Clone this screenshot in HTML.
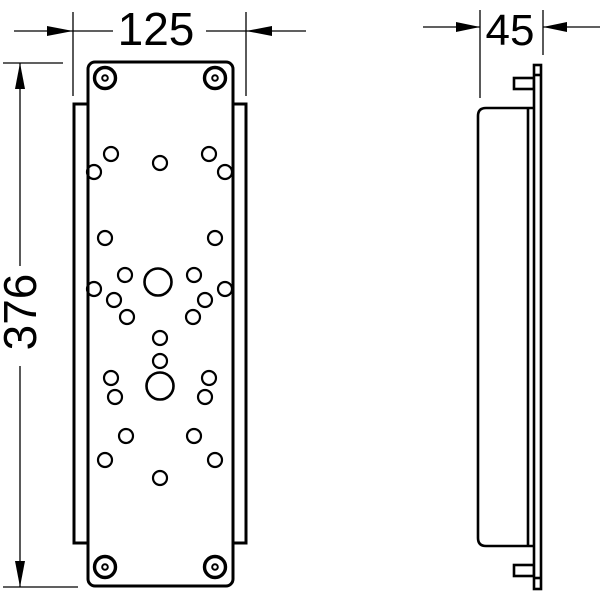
<!DOCTYPE html>
<html><head><style>body{margin:0;background:#fff}svg{display:block}</style></head>
<body>
<svg width="600" height="600" viewBox="0 0 600 600" xmlns="http://www.w3.org/2000/svg">
<g fill="none" stroke="#000" stroke-width="1.3">
<line x1="73" y1="12" x2="73" y2="96"/>
<line x1="246" y1="12" x2="246" y2="96"/>
<line x1="14" y1="31" x2="113" y2="31"/>
<line x1="206" y1="31" x2="306" y2="31"/>
<line x1="3" y1="63" x2="63" y2="63"/>
<line x1="3" y1="587" x2="78" y2="587"/>
<line x1="20" y1="63" x2="20" y2="266"/>
<line x1="20" y1="366" x2="20" y2="587"/>
<line x1="480" y1="10" x2="480" y2="98"/>
<line x1="543" y1="10" x2="543" y2="55"/>
<line x1="423" y1="27" x2="480" y2="27"/>
<line x1="543" y1="27" x2="600" y2="27"/>
</g>
<g fill="#000">
<polygon points="73,31 47,26 47,36"/>
<polygon points="246,31 272,26 272,36"/>
<polygon points="20,63 15,89 25,89"/>
<polygon points="20,587 15,561 25,561"/>
<polygon points="480,27 456,22 456,32"/>
<polygon points="543,27 567,22 567,32"/>
</g>
<g font-family="Liberation Sans, sans-serif" font-size="46" fill="#000">
<text x="156" y="45" text-anchor="middle">125</text>
<text x="510" y="45" text-anchor="middle" font-size="44">45</text>
<text transform="translate(36,312) rotate(-90)" text-anchor="middle">376</text>
</g>
<g fill="#fff" stroke="#000" stroke-width="3">
<rect x="74" y="104" width="172" height="439"/>
<rect x="88" y="62" width="145" height="524" rx="7"/>
</g>
<g fill="none" stroke="#000" stroke-width="3.4">
<circle cx="105" cy="78" r="10.5"/><circle cx="215" cy="78" r="10.5"/>
<circle cx="105" cy="567" r="10.5"/><circle cx="215" cy="567" r="10.5"/>
</g>
<g fill="none" stroke="#000" stroke-width="2.6">
<circle cx="158" cy="282" r="13.5"/><circle cx="160" cy="386" r="13.5"/>
</g>
<g fill="none" stroke="#000" stroke-width="2">
<circle cx="105" cy="78" r="2.8"/><circle cx="215" cy="78" r="2.8"/>
<circle cx="105" cy="567" r="2.8"/><circle cx="215" cy="567" r="2.8"/>
</g>
<g fill="none" stroke="#000" stroke-width="2.2">
<circle cx="111" cy="154" r="7"/><circle cx="160" cy="163" r="7"/><circle cx="209" cy="154" r="7"/>
<circle cx="94" cy="172" r="7"/><circle cx="225" cy="172" r="7"/>
<circle cx="105" cy="238" r="7"/><circle cx="215" cy="238" r="7"/>
<circle cx="125" cy="275" r="7"/><circle cx="194" cy="275" r="7"/>
<circle cx="94" cy="289" r="7"/><circle cx="225" cy="289" r="7"/>
<circle cx="114" cy="300" r="7"/><circle cx="205" cy="300" r="7"/>
<circle cx="127" cy="317" r="7"/><circle cx="193" cy="317" r="7"/>
<circle cx="160" cy="338" r="7"/><circle cx="160" cy="361" r="7"/>
<circle cx="111" cy="378" r="7"/><circle cx="209" cy="378" r="7"/>
<circle cx="115" cy="397" r="7"/><circle cx="205" cy="397" r="7"/>
<circle cx="126" cy="436" r="7"/><circle cx="194" cy="436" r="7"/>
<circle cx="105" cy="460" r="7"/><circle cx="215" cy="460" r="7"/>
<circle cx="160" cy="478" r="7"/>
</g>
<g fill="#fff" stroke="#000" stroke-width="2.6">
<rect x="514" y="78" width="20" height="11"/>
<rect x="514" y="565" width="20" height="11"/>
<path d="M534,108 H486 Q478,108 478,116 V538 Q478,546 486,546 H534"/>
<line x1="528" y1="108" x2="528" y2="546"/>
<rect x="534" y="65" width="7" height="524"/>
<line x1="534" y1="75" x2="541" y2="75"/>
<line x1="534" y1="578" x2="541" y2="578"/>
</g>
</svg>
</body></html>
